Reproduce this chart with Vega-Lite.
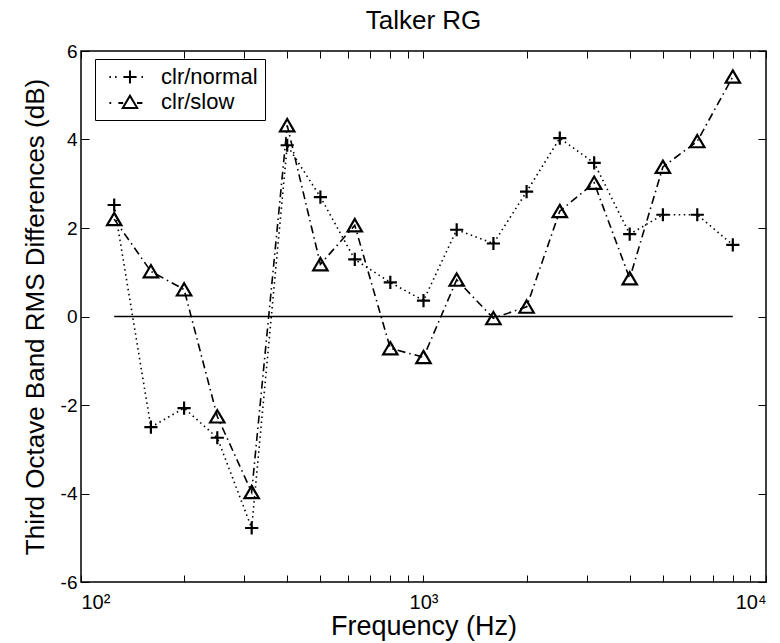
{
  "$schema": "https://vega.github.io/schema/vega-lite/v6.json",
  "width": 685,
  "height": 531,
  "autosize": {"type": "none"},
  "padding": {"left": 81, "top": 51, "right": 14, "bottom": 61},
  "background": "white",
  "title": {"text": "Talker RG", "fontSize": 26, "font": "Liberation Sans", "fontWeight": "normal", "color": "black", "offset": 8},
  "datasets": {
    "series": [
      {"freq": 125, "value": 2.52, "series": "clr/normal"},
      {"freq": 160, "value": -2.5, "series": "clr/normal"},
      {"freq": 200, "value": -2.07, "series": "clr/normal"},
      {"freq": 250, "value": -2.74, "series": "clr/normal"},
      {"freq": 315, "value": -4.78, "series": "clr/normal"},
      {"freq": 400, "value": 3.87, "series": "clr/normal"},
      {"freq": 500, "value": 2.7, "series": "clr/normal"},
      {"freq": 630, "value": 1.29, "series": "clr/normal"},
      {"freq": 800, "value": 0.77, "series": "clr/normal"},
      {"freq": 1000, "value": 0.36, "series": "clr/normal"},
      {"freq": 1250, "value": 1.96, "series": "clr/normal"},
      {"freq": 1600, "value": 1.65, "series": "clr/normal"},
      {"freq": 2000, "value": 2.82, "series": "clr/normal"},
      {"freq": 2500, "value": 4.03, "series": "clr/normal"},
      {"freq": 3150, "value": 3.47, "series": "clr/normal"},
      {"freq": 4000, "value": 1.86, "series": "clr/normal"},
      {"freq": 5000, "value": 2.3, "series": "clr/normal"},
      {"freq": 6300, "value": 2.3, "series": "clr/normal"},
      {"freq": 8000, "value": 1.62, "series": "clr/normal"},
      {"freq": 125, "value": 2.2, "series": "clr/slow"},
      {"freq": 160, "value": 1.02, "series": "clr/slow"},
      {"freq": 200, "value": 0.61, "series": "clr/slow"},
      {"freq": 250, "value": -2.26, "series": "clr/slow"},
      {"freq": 315, "value": -3.97, "series": "clr/slow"},
      {"freq": 400, "value": 4.32, "series": "clr/slow"},
      {"freq": 500, "value": 1.18, "series": "clr/slow"},
      {"freq": 630, "value": 2.06, "series": "clr/slow"},
      {"freq": 800, "value": -0.72, "series": "clr/slow"},
      {"freq": 1000, "value": -0.92, "series": "clr/slow"},
      {"freq": 1250, "value": 0.83, "series": "clr/slow"},
      {"freq": 1600, "value": -0.04, "series": "clr/slow"},
      {"freq": 2000, "value": 0.22, "series": "clr/slow"},
      {"freq": 2500, "value": 2.38, "series": "clr/slow"},
      {"freq": 3150, "value": 3.02, "series": "clr/slow"},
      {"freq": 4000, "value": 0.86, "series": "clr/slow"},
      {"freq": 5000, "value": 3.38, "series": "clr/slow"},
      {"freq": 6300, "value": 3.96, "series": "clr/slow"},
      {"freq": 8000, "value": 5.42, "series": "clr/slow"}
    ],
    "zero": [{"f1": 125, "f2": 8000, "v": 0}]
  },
  "layer": [
    {
      "data": {"name": "zero"},
      "mark": {"type": "rule", "color": "black", "strokeWidth": 1.5},
      "encoding": {
        "x": {"field": "f1", "type": "quantitative",
              "scale": {"type": "log", "domain": [100, 10000], "nice": false},
              "axis": {"orient": "top", "labels": false, "title": null, "tickSize": -7,
                       "values": [100,200,300,400,500,600,700,800,900,1000,2000,3000,4000,5000,6000,7000,8000,9000,10000]}},
        "x2": {"field": "f2"},
        "y": {"field": "v", "type": "quantitative",
              "scale": {"domain": [-6, 6], "nice": false, "zero": false},
              "axis": {"orient": "right", "labels": false, "title": null, "tickSize": -8,
                       "values": [-6,-4,-2,0,2,4,6]}}
      }
    },
    {
      "data": {"name": "series"},
      "mark": {"type": "line", "color": "black", "strokeWidth": 1.6},
      "encoding": {
        "x": {"field": "freq", "type": "quantitative",
              "axis": {"orient": "bottom", "title": "Frequency (Hz)", "tickSize": -7, "labelPadding": 17,
                       "labelFontSize": 20, "titleFontSize": 27,
                       "labelOverlap": false, "titleY": 52, "titleBaseline": "alphabetic",
                       "values": [100,200,300,400,500,600,700,800,900,1000,2000,3000,4000,5000,6000,7000,8000,9000,10000],
                       "labelExpr": "datum.value == 100 ? '10²' : datum.value == 1000 ? '10³' : datum.value == 10000 ? '10⁴' : ''"}},
        "y": {"field": "value", "type": "quantitative",
              "axis": {"orient": "left", "title": "Third Octave Band RMS Differences (dB)", "tickSize": -8, "labelPadding": 12,
                       "labelFontSize": 19, "titleFontSize": 26,
                       "titleX": -38, "titleBaseline": "alphabetic",
                       "values": [-6,-4,-2,0,2,4,6], "labelExpr": "'' + datum.value"}},
        "strokeDash": {"field": "series", "type": "nominal",
                       "scale": {"domain": ["clr/normal", "clr/slow"], "range": [[1.5, 3.5], [8, 4, 1.5, 4]]},
                       "legend": null}
      }
    },
    {
      "data": {"name": "series"},
      "mark": {"type": "point", "filled": false, "color": "black", "strokeWidth": 2.2, "size": 144, "opacity": 1},
      "encoding": {
        "x": {"field": "freq", "type": "quantitative", "axis": null},
        "y": {"field": "value", "type": "quantitative", "axis": null},
        "shape": {"field": "series", "type": "nominal",
                  "scale": {"domain": ["clr/normal", "clr/slow"],
                            "range": ["M-1.1,0H1.1M0,-1.1V1.1", "M0,-1.05L1.2,1.0L-1.2,1.0Z"]},
                  "legend": null}
      }
    },
    {
      "data": {"name": "series"},
      "transform": [{"filter": "datum.value > 100"}],
      "mark": {"type": "point", "filled": false, "color": "black", "strokeWidth": 2, "opacity": 1},
      "encoding": {
        "x": {"field": "freq", "type": "quantitative", "axis": null},
        "y": {"field": "value", "type": "quantitative", "axis": null},
        "shape": {"field": "series", "type": "nominal",
                  "scale": {"domain": ["clr/normal", "clr/slow"],
                            "range": ["M-0.6,0h0.25M0.35,0h0.25M1.73,0H3.93M2.83,-1.1V1.1M4.75,0h0.25",
                                      "M2.83,-1.05L4.03,1.0L1.63,1.0Z M-0.6,0.15h0.3M0.9,0.15h0.8M4.0,0.15h0.9"]},
                  "legend": {"orient": "none", "legendX": 14, "legendY": 8, "title": null,
                             "strokeColor": "black", "fillColor": "white", "padding": 7,
                             "symbolSize": 144, "symbolStrokeWidth": 2, "symbolStrokeColor": "black",
                             "symbolFillColor": "transparent", "symbolOpacity": 1,
                             "labelFont": "Liberation Sans", "labelFontSize": 22, "labelColor": "black",
                             "labelOffset": 37, "rowPadding": 3}}
      }
    }
  ],
  "resolve": {"scale": {"shape": "independent"}, "axis": {"x": "independent", "y": "independent"}},
  "config": {
    "view": {"stroke": "black", "strokeWidth": 1.5},
    "axis": {"domain": false, "grid": false, "tickColor": "black", "tickWidth": 1,
             "labelColor": "black", "titleColor": "black",
             "labelFont": "Liberation Sans", "titleFont": "Liberation Sans",
             "labelFontSize": 18, "titleFontSize": 25, "titleFontWeight": "normal"}
  }
}
